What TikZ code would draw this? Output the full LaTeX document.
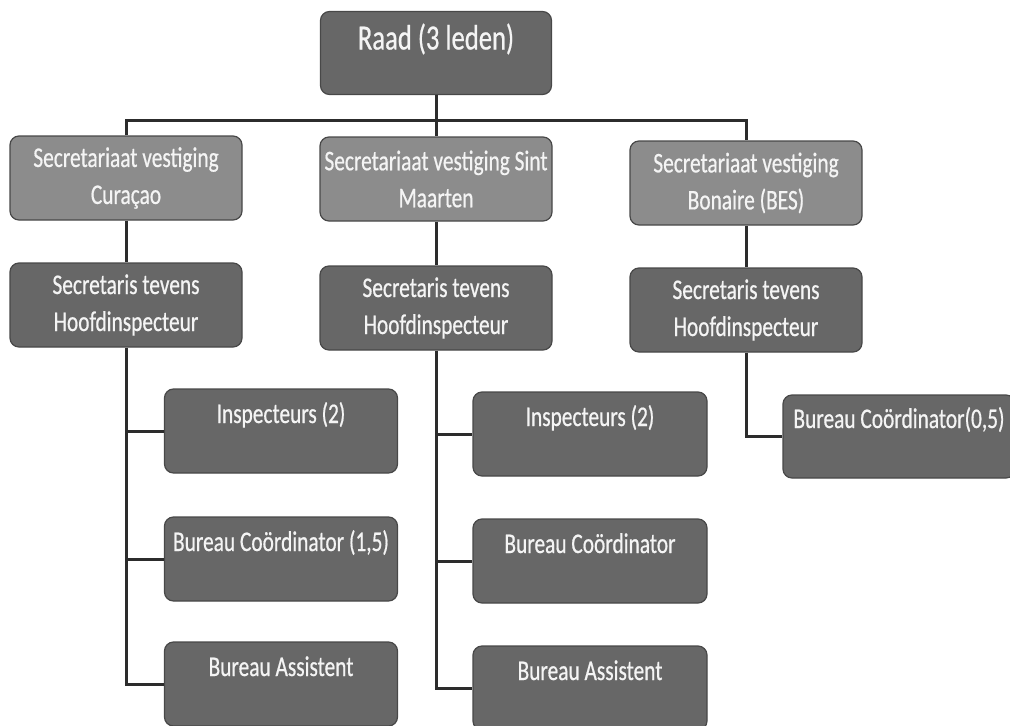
\documentclass[tikz,border=0pt]{standalone}
\usepackage{fontspec}
\setmainfont{Carlito}[FakeStretch=0.75, FakeBold=0.6]
\definecolor{boxdark}{HTML}{676767}
\definecolor{boxlight}{HTML}{8C8C8C}
\definecolor{boxrim}{HTML}{484848}
\definecolor{wire}{HTML}{2C2C2C}
\definecolor{label}{HTML}{F4F4F4}
\begin{document}
\begin{tikzpicture}[x=1pt, y=-1pt,
    unit/.style={draw=boxrim, line width=1.2pt, rounded corners=9pt, text=label,
                 inner sep=0pt, minimum width=232pt, minimum height=84pt,
                 align=center, font=\fontsize{28.5}{37}\selectfont},
    dark/.style={unit, fill=boxdark},
    light/.style={unit, fill=boxlight},
    topline/.style={text height=34pt, text depth=50pt},
    link/.style={draw=wire, line width=3pt}]
    \useasboundingbox (0, 0) rectangle (1010, 726);
    % top of the tree
    \node (raad) [dark, minimum width=231pt, minimum height=83pt, text height=38pt, text depth=45pt,
                  font=\fontsize{35.5}{40}\selectfont] at (436, 53) {Raad (3 leden)};
    \node (sc)  [light] at (126, 178) {Secretariaat vestiging\\Curaçao};
    \node (ssm) [light] at (436, 179) {Secretariaat vestiging Sint\\Maarten};
    \node (sb)  [light] at (746, 183) {Secretariaat vestiging\\Bonaire (BES)};
    \node (hc)  [dark] at (126, 305) {Secretaris tevens\\Hoofdinspecteur};
    \node (hsm) [dark] at (436, 308) {Secretaris tevens\\Hoofdinspecteur};
    \node (hb)  [dark] at (746, 310) {Secretaris tevens\\Hoofdinspecteur};
    % staff
    \node (ci)  [dark, topline, minimum width=233pt] at (281, 431) {Inspecteurs (2)};
    \node (cc)  [dark, topline, minimum width=233pt] at (281, 559) {Bureau Coördinator (1,5)};
    \node (ca)  [dark, topline, minimum width=233pt] at (281, 684) {Bureau Assistent};
    \node (mi)  [dark, topline, minimum width=234pt] at (590, 434) {Inspecteurs (2)};
    \node (mc)  [dark, topline, minimum width=234pt] at (590, 561) {Bureau Coördinator};
    \node (ma)  [dark, topline, minimum width=234pt] at (590, 688) {Bureau Assistent};
    \node (bc)  [dark, topline, text height=33pt, text depth=50pt, minimum height=83pt] at (899, 436.5) {Bureau Coördinator(0,5)};
    \coordinate (bus) at (0, 120);
    % connectors
    \draw[link] (raad.south) -- (ssm.north);
    \draw[link] (sc.north) -- (sc.north |- bus) -- (sb.north |- bus) -- (sb.north);
    \draw[link] (sc) edge (hc) (ssm) edge (hsm) (sb) edge (hb);
    \draw[link] (hc.south) |- (ca.west)
                (hc.south |- ci.west) -- (ci.west)
                (hc.south |- cc.west) -- (cc.west);
    \draw[link] (hsm.south) |- (ma.west)
                (hsm.south |- mi.west) -- (mi.west)
                (hsm.south |- mc.west) -- (mc.west);
    \draw[link] (hb.south) |- (bc.west);
\end{tikzpicture}
\end{document}
